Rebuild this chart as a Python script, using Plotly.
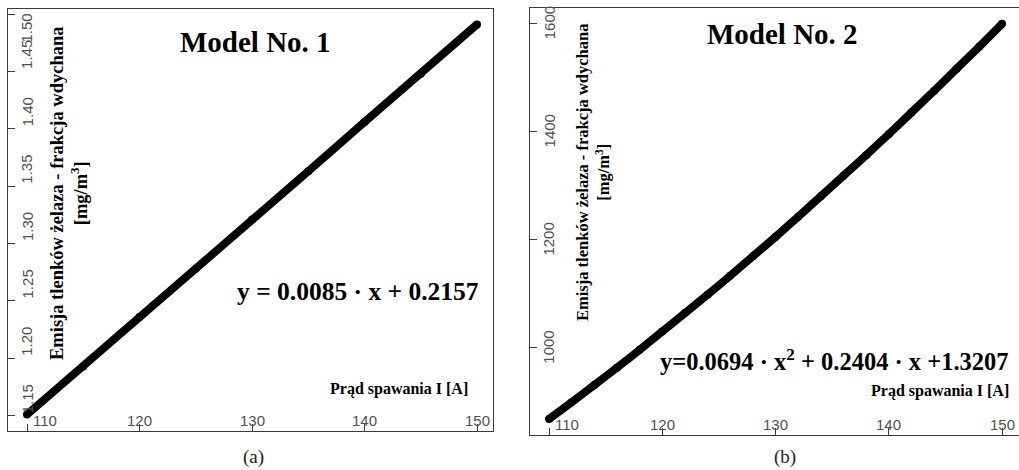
import plotly.graph_objects as go

# ---- data -------------------------------------------------------------
current_a = [110, 115, 120, 125, 130, 135, 140, 145, 150]
emission_a = [1.151, 1.193, 1.236, 1.278, 1.321, 1.363, 1.406, 1.448, 1.491]

current_b = [110, 112, 114, 116, 118, 120, 122, 124, 126, 128, 130,
             132, 134, 136, 138, 140, 142, 144, 146, 148, 150]
emission_b = [868, 899, 931, 963, 996, 1030, 1064, 1098, 1133, 1169, 1205,
              1242, 1280, 1318, 1356, 1395, 1435, 1475, 1516, 1557, 1599]

x_ticks = [110, 120, 130, 140, 150]
y_ticks_a = [1.15, 1.20, 1.25, 1.30, 1.35, 1.40, 1.45, 1.50]
y_ticks_a_text = ["1.15", "1.20", "1.25", "1.30", "1.35", "1.40", "1.45", "1.50"]
y_ticks_b = [1000, 1200, 1400, 1600]

titles = ["Model No. 1", "Model No. 2"]
equations = ["y = 0.0085 · x + 0.2157",
             "y=0.0694 · x<sup>2</sup> + 0.2404 · x +1.3207"]
y_title = "Emisja tlenków żelaza - frakcja wdychana<br>[mg/m<sup>3</sup>]"
x_title = "Prąd spawania I [A]"
captions = ["(a)", "(b)"]

# ---- styling ----------------------------------------------------------
W, H = 1019, 470
SERIF = "Liberation Serif, Times New Roman, serif"
SANS = "Liberation Sans, Arial, sans-serif"
AXIS_COL = "#3a3a3a"
TICK_COL = "#505050"


def px(xp):
    return xp / W


def py(yp):
    return 1 - yp / H


fig = go.Figure()

fig.add_trace(go.Scatter(
    x=current_a, y=emission_a, mode="lines+markers",
    line=dict(color="black", width=8),
    marker=dict(color="black", size=8),
    xaxis="x", yaxis="y", showlegend=False, hoverinfo="skip"))

fig.add_trace(go.Scatter(
    x=current_b, y=emission_b, mode="lines+markers",
    line=dict(color="black", width=8, shape="spline", smoothing=0.6),
    marker=dict(color="black", size=8),
    xaxis="x2", yaxis="y2", showlegend=False, hoverinfo="skip"))

axis_common = dict(showline=True, linecolor=AXIS_COL, linewidth=1.2,
                   ticks="inside", ticklen=7, tickcolor=AXIS_COL, tickwidth=1.2,
                   showticklabels=False, showgrid=False, zeroline=False,
                   fixedrange=True)

fig.update_layout(
    width=W, height=H,
    margin=dict(l=0, r=0, t=0, b=0),
    paper_bgcolor="white", plot_bgcolor="white",
    xaxis=dict(domain=[px(8), px(493)], range=[108.31, 151.42],
               tickvals=x_ticks, anchor="y", mirror=True, **axis_common),
    yaxis=dict(domain=[py(431), py(9)], range=[1.1367, 1.5044],
               tickvals=y_ticks_a, anchor="x", mirror=True, **axis_common),
    xaxis2=dict(domain=[px(530), 1.0], range=[108.32, 151.5],
                tickvals=x_ticks, anchor="y2", mirror=True, **axis_common),
    yaxis2=dict(domain=[py(435), py(8)], range=[838.5, 1628.3],
                tickvals=y_ticks_b, anchor="x2", mirror=False, **axis_common),
)

ann = []
tick_font = dict(family=SANS, size=15, color=TICK_COL)

# x tick labels, drawn inside the frame just above the bottom line
for xr, yr in (("x", "y domain"), ("x2", "y2 domain")):
    for v in x_ticks:
        first = v == x_ticks[0]
        ann.append(dict(xref=xr, yref=yr, x=v, y=0,
                        text=str(v), showarrow=False, font=tick_font,
                        xanchor="left" if first else "center",
                        yanchor="bottom", xshift=4 if first else 0, yshift=0))

# y tick labels, rotated, inside the frame
for v, t in zip(y_ticks_a, y_ticks_a_text):
    top = v == y_ticks_a[-1]
    ann.append(dict(xref="x domain", yref="y", x=0, y=v, text=t,
                    showarrow=False, font=tick_font, textangle=-90,
                    xanchor="center", xshift=19,
                    yanchor="top" if top else "bottom",
                    yshift=2 if top else 0))
for v in y_ticks_b:
    ann.append(dict(xref="x2 domain", yref="y2", x=0, y=v, text=str(v),
                    showarrow=False, font=tick_font, textangle=-90,
                    xanchor="center", xshift=19, yanchor="middle"))

bold = dict(family=SERIF, color="black", weight="bold")

# panel titles
ann.append(dict(xref="paper", yref="paper", x=px(256), y=py(42), text=titles[0],
                showarrow=False, xanchor="center", yanchor="middle",
                font=dict(size=29, **bold)))
ann.append(dict(xref="paper", yref="paper", x=px(782), y=py(34), text=titles[1],
                showarrow=False, xanchor="center", yanchor="middle",
                font=dict(size=29, **bold)))

# fitted equations
ann.append(dict(xref="paper", yref="paper", x=px(358), y=py(291), text=equations[0],
                showarrow=False, xanchor="center", yanchor="middle",
                font=dict(size=25.5, **bold)))
ann.append(dict(xref="paper", yref="paper", x=px(834), y=py(360), text=equations[1],
                showarrow=False, xanchor="center", yanchor="middle",
                font=dict(size=24.5, **bold)))

# axis titles
ann.append(dict(xref="paper", yref="paper", x=px(399), y=py(389), text=x_title,
                showarrow=False, xanchor="center", yanchor="middle",
                font=dict(size=16, **bold)))
ann.append(dict(xref="paper", yref="paper", x=px(940), y=py(391), text=x_title,
                showarrow=False, xanchor="center", yanchor="middle",
                font=dict(size=16, **bold)))
ann.append(dict(xref="paper", yref="paper", x=px(69), y=py(194), text=y_title,
                showarrow=False, xanchor="center", yanchor="middle", textangle=-90,
                font=dict(size=18.5, **bold)))
ann.append(dict(xref="paper", yref="paper", x=px(593), y=py(173), text=y_title,
                showarrow=False, xanchor="center", yanchor="middle", textangle=-90,
                font=dict(size=16.5, **bold)))

# sub-figure captions
ann.append(dict(xref="paper", yref="paper", x=px(253), y=py(457), text=captions[0],
                showarrow=False, xanchor="center", yanchor="middle",
                font=dict(family=SERIF, size=19, color="#222222")))
ann.append(dict(xref="paper", yref="paper", x=px(785), y=py(457), text=captions[1],
                showarrow=False, xanchor="center", yanchor="middle",
                font=dict(family=SERIF, size=19, color="#222222")))

fig.update_layout(annotations=ann)

fig.write_html("out.html", config={"displayModeBar": False})
